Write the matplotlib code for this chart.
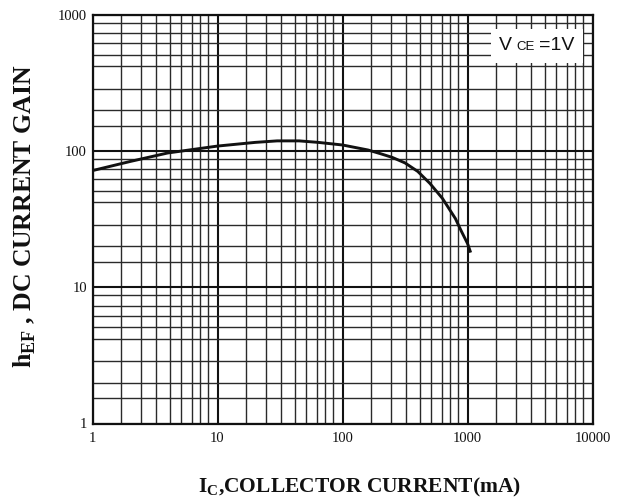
"""hFE vs collector current, datasheet-style log-log chart."""

import matplotlib

matplotlib.use("Agg")

import matplotlib.pyplot as plt
from matplotlib.offsetbox import AnchoredOffsetbox, HPacker, TextArea
from matplotlib.ticker import FixedLocator, NullFormatter

# collector current (mA) and DC current gain
IC_MA = [1, 2, 4, 10, 20, 30, 45, 64, 100, 160, 200, 250, 316, 400, 500, 630, 800, 890, 1000, 1060]
HFE = [72, 84, 97, 109, 116, 119, 119, 116, 111, 102, 96, 90, 82, 71, 58, 45, 32, 26, 21, 18]

X_DECADES = [1, 10, 100, 1000, 10000]
Y_DECADES = [1, 10, 100, 1000]
X_TICK_LABELS = ["1", "10", "100", "1000", "10000"]
Y_TICK_LABELS = ["1", "10", "100", "1000"]

# the printed grid is not an exact log grid; per-decade line multipliers
X_GRID_STEPS = [1.7, 2.45, 3.25, 4.2, 5.15, 6.2, 7.3, 8.4]
Y_GRID_STEPS = [1.53, 2.0, 2.88, 4.2, 5.1, 6.2, 7.35, 8.8]

C_INK = "#111111"
C_GRID = "#2a2a2a"
SERIF = "Liberation Serif"

plt.rcParams.update(
    {
        "mathtext.fontset": "custom",
        "mathtext.bf": "Liberation Serif:bold",
        "mathtext.rm": "Liberation Serif",
    }
)


def _minor_positions(decades, steps):
    return [d * s for d in decades[:-1] for s in steps]


fig = plt.figure(figsize=(6.28, 5.04), dpi=100)
ax = fig.add_axes([92.5 / 628, 80.5 / 504, 500 / 628, 408.5 / 504])

ax.set_xscale("log")
ax.set_yscale("log")
ax.set_xlim(X_DECADES[0], X_DECADES[-1])
ax.set_ylim(Y_DECADES[0], Y_DECADES[-1])

ax.xaxis.set_major_locator(FixedLocator(X_DECADES))
ax.yaxis.set_major_locator(FixedLocator(Y_DECADES))
ax.set_xticklabels(X_TICK_LABELS)
ax.set_yticklabels(Y_TICK_LABELS)
ax.xaxis.set_minor_locator(FixedLocator(_minor_positions(X_DECADES, X_GRID_STEPS)))
ax.yaxis.set_minor_locator(FixedLocator(_minor_positions(Y_DECADES, Y_GRID_STEPS)))
ax.xaxis.set_minor_formatter(NullFormatter())
ax.yaxis.set_minor_formatter(NullFormatter())

ax.tick_params(which="both", length=0)
ax.tick_params(axis="x", pad=6)
ax.tick_params(axis="y", pad=4)
for lab in ax.get_xticklabels() + ax.get_yticklabels():
    lab.set_fontfamily(SERIF)
    lab.set_fontsize(10.5)
    lab.set_color(C_INK)

ax.grid(True, which="major", color=C_INK, lw=1.5)
ax.grid(True, which="minor", color=C_GRID, lw=1.0)
ax.set_axisbelow(True)
for spine in ax.spines.values():
    spine.set_color(C_INK)
    spine.set_linewidth(1.6)

ax.plot(IC_MA, HFE, color=C_INK, lw=2.1, solid_capstyle="butt", zorder=3)

# V_CE = 1V tag in a white box over the grid
tag = HPacker(
    children=[
        TextArea("V", textprops=dict(family="Liberation Sans", size=14, color=C_INK)),
        TextArea("CE", textprops=dict(family="Liberation Sans", size=9.5, color=C_INK)),
        TextArea("=1V", textprops=dict(family="Liberation Sans", size=14, color=C_INK)),
    ],
    align="baseline",
    pad=0,
    sep=3,
)
box = AnchoredOffsetbox(
    loc="upper right",
    child=tag,
    pad=0.6,
    borderpad=0,
    frameon=True,
    bbox_to_anchor=(1 - 10 / 500, 1 - 14 / 408.5),
    bbox_transform=ax.transAxes,
)
box.patch.set_facecolor("white")
box.patch.set_edgecolor("none")
box.zorder = 4
ax.add_artist(box)

fig.text(
    0.040,
    0.571,
    r"$\mathbf{h}_{\mathbf{EF}}$ , DC CURRENT GAIN",
    rotation=90,
    ha="center",
    va="center",
    family=SERIF,
    weight="bold",
    size=18.5,
    color=C_INK,
)
fig.text(
    0.572,
    0.032,
    r"$\mathbf{I}_{\mathbf{C}}$,COLLECTOR CURRENT(mA)",
    ha="center",
    va="center",
    family=SERIF,
    weight="bold",
    size=15.5,
    color=C_INK,
)

fig.savefig("out.png", dpi=100, facecolor="white")
